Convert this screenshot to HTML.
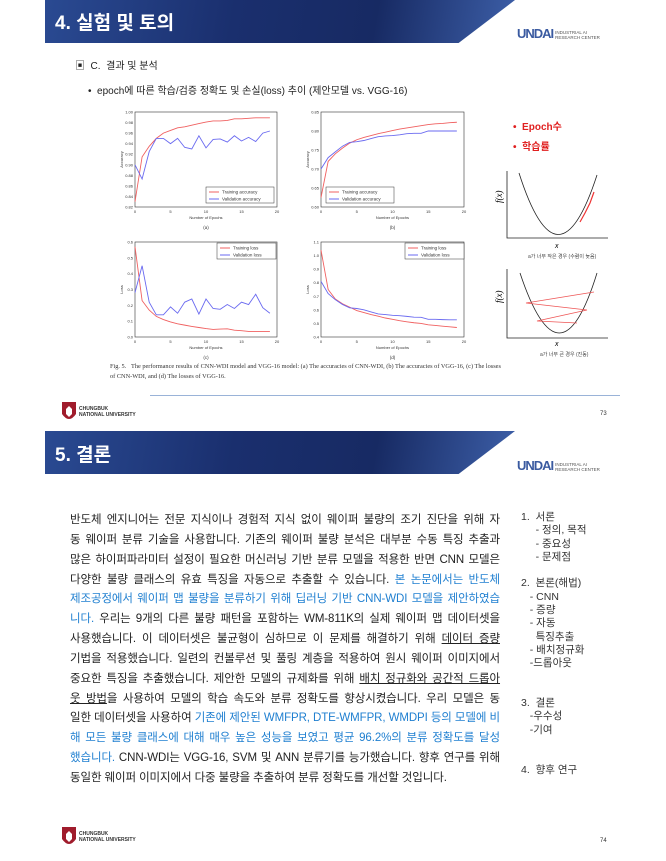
<!DOCTYPE html>
<html><head><meta charset="utf-8"><style>
body{margin:0;width:666px;height:861px;background:#fff;position:relative;overflow:hidden;font-family:"Liberation Sans","Noto Sans CJK KR",sans-serif;}
.abs{position:absolute;white-space:nowrap}
.hdr{position:absolute;left:45px;width:470px;height:43px;background:linear-gradient(100deg,#2a4a92 0%,#1a2f6e 40%,#172a63 70%,#3d5fa8 100%);clip-path:polygon(0 0,100% 0,88% 100%,0 100%);}
.ttl{position:absolute;color:#fff;font-weight:bold;font-size:19px;left:55px}
.logo{position:absolute;left:517px;font-weight:bold;color:#3a5aa0;font-size:13px;letter-spacing:-1px}
.logo span{font-size:4.5px;color:#555;letter-spacing:0;display:inline-block;vertical-align:middle;line-height:5px;margin-left:2px;font-weight:normal}
.body{position:absolute;left:70px;top:511px;width:430px;font-size:11.5px;line-height:19.85px;color:#222;letter-spacing:-0.1px}
.body div{text-align:justify;text-align-last:justify;white-space:nowrap;height:19.85px}
.body div.last{text-align-last:left}
.b{color:#1f7fd0}
u{text-decoration:underline}
.toc{position:absolute;left:521px;top:511px;font-size:10.5px;line-height:13.3px;color:#333;white-space:pre}
.cnu{position:absolute;font-size:5px;line-height:6px;font-weight:bold;color:#333}
</style></head><body>
<div class="hdr" style="top:0"></div>
<div class="ttl" style="top:8px">4. 실험 및 토의</div>
<div class="logo" style="top:26px">UNDAI<span>INDUSTRIAL AI<br>RESEARCH CENTER</span></div>
<div class="abs" style="left:75px;top:57px;font-size:10px;color:#222">▣ &nbsp;C. &nbsp;결과 및 분석</div>
<div class="abs" style="left:88px;top:82px;font-size:10px;color:#222">• &nbsp;epoch에 따른 학습/검증 정확도 및 손실(loss) 추이 (제안모델 vs. VGG-16)</div>
<svg id="ch" class="abs" style="left:0;top:0" width="666" height="400"></svg>
<div class="abs" style="left:110px;top:362px;font-size:6.3px;font-family:'Liberation Serif',serif;color:#333;line-height:10px">Fig. 5.&nbsp;&nbsp;&nbsp;The performance results of CNN-WDI model and VGG-16 model: (a) The accuracies of CNN-WDI, (b) The accuracies of VGG-16, (c) The losses<br>of CNN-WDI, and (d) The losses of VGG-16.</div>
<div class="abs" style="left:513px;top:118px;font-size:10px;font-weight:bold;color:#e02020">• &nbsp;Epoch수</div>
<div class="abs" style="left:513px;top:138px;font-size:10px;font-weight:bold;color:#e02020">• &nbsp;학습률</div>
<svg class="abs" style="left:490px;top:165px" width="150" height="205">
<g fill="none" stroke="#222" stroke-width="0.8">
<path d="M17,6 V73 H118"/><path d="M17,104 V173 H118"/>
<path d="M29,8 Q68,130 107,10"/>
<path d="M30,108 Q70,228 107,108"/>
</g>
<path d="M90,57 L95,48 L100,38 L104,27" stroke="#e33" stroke-width="1.2" fill="none"/>
<path d="M104,127 L36,138 L97,145 L47,156 L87,158" stroke="#e55" stroke-width="0.8" fill="none"/>
<text x="8" y="42" font-size="9" font-style="italic" font-family="Liberation Serif" transform="rotate(-90 8 38)">f(x)</text>
<text x="8" y="142" font-size="9" font-style="italic" font-family="Liberation Serif" transform="rotate(-90 8 138)">f(x)</text>
<text x="65" y="83" font-size="7" font-style="italic">x</text>
<text x="65" y="181" font-size="7" font-style="italic">x</text>
<text x="38" y="93" font-size="5" fill="#444">a가 너무 작은 경우 (수렴이 늦음)</text>
<text x="50" y="191" font-size="5" fill="#444">a가 너무 큰 경우 (진동)</text>
</svg>
<div style="position:absolute;left:150px;top:395px;width:470px;height:1px;background:#9ab3d8"></div>
<svg class="abs" style="left:62px;top:402px" width="14" height="20"><path d="M0,0 H14 V12 Q7,22 0,12Z" fill="#a01c2c"/><path d="M4,7 L7,4 L10,7 V12 L7,15 L4,12Z" fill="#fff"/></svg>
<div class="cnu" style="left:79px;top:406px">CHUNGBUK<br>NATIONAL UNIVERSITY</div>
<div class="abs" style="left:600px;top:411px;font-size:6px;color:#333">73</div>

<div class="hdr" style="top:431px"></div>
<div class="ttl" style="top:440px">5. 결론</div>
<div class="logo" style="top:458px">UNDAI<span>INDUSTRIAL AI<br>RESEARCH CENTER</span></div>
<div class="body">
<div>반도체 엔지니어는 전문 지식이나 경험적 지식 없이 웨이퍼 불량의 조기 진단을 위해 자</div>
<div>동 웨이퍼 분류 기술을 사용합니다. 기존의 웨이퍼 불량 분석은 대부분 수동 특징 추출과</div>
<div>많은 하이퍼파라미터 설정이 필요한 머신러닝 기반 분류 모델을 적용한 반면 CNN 모델은</div>
<div>다양한 불량 클래스의 유효 특징을 자동으로 추출할 수 있습니다. <span class="b">본 논문에서는 반도체</span></div>
<div><span class="b">제조공정에서 웨이퍼 맵 불량을 분류하기 위해 딥러닝 기반 CNN-WDI 모델을 제안하였습</span></div>
<div><span class="b">니다.</span> 우리는 9개의 다른 불량 패턴을 포함하는 WM-811K의 실제 웨이퍼 맵 데이터셋을</div>
<div>사용했습니다. 이 데이터셋은 불균형이 심하므로 이 문제를 해결하기 위해 <u>데이터 증량</u></div>
<div>기법을 적용했습니다. 일련의 컨볼루션 및 풀링 계층을 적용하여 원시 웨이퍼 이미지에서</div>
<div>중요한 특징을 추출했습니다. 제안한 모델의 규제화를 위해 <u>배치 정규화와 공간적 드롭아</u></div>
<div><u>웃 방법</u>을 사용하여 모델의 학습 속도와 분류 정확도를 향상시켰습니다. 우리 모델은 동</div>
<div>일한 데이터셋을 사용하여 <span class="b">기존에 제안된 WMFPR, DTE-WMFPR, WMDPI 등의 모델에 비</span></div>
<div><span class="b">해 모든 불량 클래스에 대해 매우 높은 성능을 보였고 평균 96.2%의 분류 정확도를 달성</span></div>
<div><span class="b">했습니다.</span> CNN-WDI는 VGG-16, SVM 및 ANN 분류기를 능가했습니다. 향후 연구를 위해</div>
<div class="last">동일한 웨이퍼 이미지에서 다중 불량을 추출하여 분류 정확도를 개선할 것입니다.</div>
</div>
<div class="toc">1.  서론
     - 정의, 목적
     - 중요성
     - 문제점

2.  본론(해법)
   - CNN
   - 증량
   - 자동
     특징추출
   - 배치정규화
   -드롭아웃


3.  결론
   -우수성
   -기여


4.  향후 연구</div>
<svg class="abs" style="left:62px;top:827px" width="14" height="20"><path d="M0,0 H14 V12 Q7,22 0,12Z" fill="#a01c2c"/><path d="M4,7 L7,4 L10,7 V12 L7,15 L4,12Z" fill="#fff"/></svg>
<div class="cnu" style="left:79px;top:831px">CHUNGBUK<br>NATIONAL UNIVERSITY</div>
<div class="abs" style="left:600px;top:838px;font-size:6px;color:#333">74</div>
<script>
var s=document.getElementById('ch'),h='';
function chart(x0,x1,y0,y1,ymin,ymax,ticks,ylab,tr,va,l1,l2,leg,cap){
 h+='<rect x="'+x0+'" y="'+y0+'" width="'+(x1-x0)+'" height="'+(y1-y0)+'" fill="none" stroke="#333" stroke-width="0.6"/>';
 function px(i){return x0+(x1-x0)*i/20}function py(v){return y1-(y1-y0)*(v-ymin)/(ymax-ymin)}
 ticks.forEach(function(t){h+='<text x="'+(x0-2)+'" y="'+(py(t)+1.5)+'" font-size="4" text-anchor="end" fill="#333">'+t.toFixed(2).replace(/0$/,ymax>1||ymax==0.6?'':'0')+'</text>';});
 [0,5,10,15,20].forEach(function(t){h+='<text x="'+px(t)+'" y="'+(y1+6)+'" font-size="4" text-anchor="middle" fill="#333">'+t+'</text>';});
 h+='<text x="'+(x0+x1)/2+'" y="'+(y1+12)+'" font-size="4" text-anchor="middle" fill="#333">Number of Epochs</text>';
 h+='<text x="'+(x0-12)+'" y="'+(y0+y1)/2+'" font-size="4" text-anchor="middle" fill="#333" transform="rotate(-90 '+(x0-12)+' '+(y0+y1)/2+')">'+ylab+'</text>';
 h+='<text x="'+(x0+x1)/2+'" y="'+(y1+22)+'" font-size="4.5" text-anchor="middle" fill="#333">'+cap+'</text>';
 [[tr,'#f06060'],[va,'#6a6af0']].forEach(function(a){h+='<polyline fill="none" stroke="'+a[1]+'" stroke-width="0.9" points="'+a[0].map(function(v,i){return px(i)+','+py(v)}).join(' ')+'"/>';});
 var lx=leg[0],ly=leg[1],w=leg[2];
 h+='<rect x="'+lx+'" y="'+ly+'" width="'+w+'" height="16" fill="#fff" stroke="#333" stroke-width="0.5"/>';
 h+='<line x1="'+(lx+3)+'" x2="'+(lx+13)+'" y1="'+(ly+5)+'" y2="'+(ly+5)+'" stroke="#f06060"/><text x="'+(lx+16)+'" y="'+(ly+6.5)+'" font-size="4.5" fill="#333">'+l1+'</text>';
 h+='<line x1="'+(lx+3)+'" x2="'+(lx+13)+'" y1="'+(ly+12)+'" y2="'+(ly+12)+'" stroke="#6a6af0"/><text x="'+(lx+16)+'" y="'+(ly+13.5)+'" font-size="4.5" fill="#333">'+l2+'</text>';
}
chart(135,277,112,207,0.82,1.0,[0.82,0.84,0.86,0.88,0.9,0.92,0.94,0.96,0.98,1.0],'Accuracy',
[.83,.915,.935,.95,.96,.965,.97,.972,.975,.978,.981,.983,.983,.984,.987,.987,.988,.989,.989,.989],
[.90,.873,.925,.95,.95,.94,.95,.933,.93,.955,.932,.948,.949,.943,.955,.945,.952,.944,.96,.964],
'Training accuracy','Validation accuracy',[206,187,68],'(a)');
chart(321,464,112,207,0.60,0.85,[0.60,0.65,0.70,0.75,0.80,0.85],'Accuracy',
[.625,.72,.74,.755,.768,.777,.783,.788,.793,.797,.801,.805,.808,.811,.814,.817,.819,.82,.822,.823],
[.70,.73,.745,.76,.77,.772,.775,.78,.785,.787,.788,.79,.793,.794,.794,.80,.80,.80,.80,.80],
'Training accuracy','Validation accuracy',[326,187,68],'(b)');
chart(135,277,242,337,0,0.6,[0,0.1,0.2,0.3,0.4,0.5,0.6],'Loss',
[.57,.23,.17,.13,.11,.095,.083,.075,.067,.06,.053,.048,.05,.052,.043,.04,.035,.035,.035,.035],
[.28,.45,.22,.14,.14,.19,.15,.22,.24,.145,.24,.18,.175,.205,.18,.22,.205,.27,.185,.15],
'Training loss','Validation loss',[217,243,59],'(c)');
chart(321,464,242,337,0.4,1.1,[0.4,0.5,0.6,0.7,0.8,0.9,1.0,1.1],'Loss',
[1.04,.75,.68,.645,.62,.595,.58,.565,.553,.54,.53,.52,.512,.505,.5,.49,.485,.48,.475,.47],
[.81,.72,.675,.64,.615,.61,.6,.585,.57,.565,.56,.557,.552,.546,.545,.53,.53,.528,.527,.527],
'Training loss','Validation loss',[405,243,59],'(d)');
s.innerHTML=h;
</script>
</body></html>
